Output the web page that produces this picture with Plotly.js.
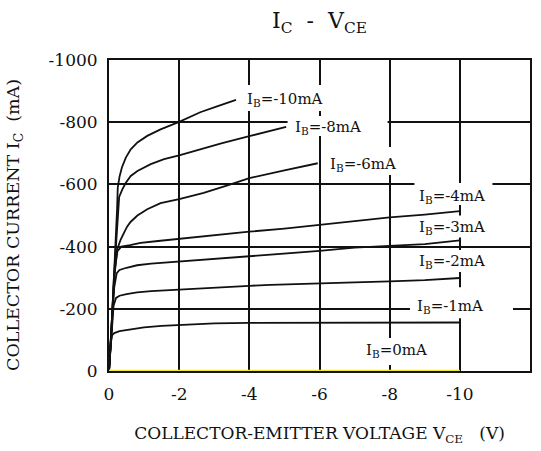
<!DOCTYPE html>
<html>
<head>
<meta charset="utf-8">
<script src="https://cdn.plot.ly/plotly-3.0.1.min.js"></script>
<style>html,body{margin:0;padding:0;background:#fff;}#chart{width:541px;height:451px;}</style>
</head>
<body>
<div id="chart"></div>
<script>
// ---- data (VCE in V, IC in mA) ----
var ib10_v = [0, -0.06, -0.14, -0.2, -0.23, -0.25, -0.3, -0.37, -0.48, -0.62, -0.81, -1.09, -1.47, -2.0, -2.6, -3.1, -3.62];
var ib10_i = [0, -110, -300, -420, -520, -590, -625, -655, -686, -713, -735, -756, -777, -801, -832, -852, -872];
var ib8_v = [0, -0.06, -0.14, -0.21, -0.25, -0.29, -0.38, -0.48, -0.62, -0.81, -1.19, -1.57, -2.0, -2.6, -3.2, -4.0, -4.5, -5.05];
var ib8_i = [0, -110, -300, -440, -520, -560, -584, -605, -627, -643, -665, -681, -693, -713, -732, -755, -770, -785];
var ib6_v = [0, -0.06, -0.15, -0.23, -0.33, -0.43, -0.52, -0.62, -0.81, -1.09, -1.47, -2.0, -2.7, -3.4, -4.0, -5.0, -5.95];
var ib6_i = [0, -110, -300, -390, -422, -445, -465, -480, -500, -520, -540, -553, -573, -598, -620, -645, -668];
var ib4_v = [0, -0.06, -0.16, -0.24, -0.35, -0.6, -0.9, -1.4, -2, -2.6, -3.3, -4, -5, -6, -7, -8, -9, -10];
var ib4_i = [0, -110, -320, -385, -400, -405, -412, -418, -425, -433, -440, -448, -458, -470, -482, -494, -503, -514];
var ib3_v = [0, -0.06, -0.15, -0.22, -0.3, -0.5, -0.8, -1.2, -2, -3, -4, -5, -6, -7, -8, -9, -10];
var ib3_i = [0, -110, -270, -315, -325, -332, -340, -345, -352, -360, -368, -377, -386, -397, -402, -408, -420];
var ib2_v = [0, -0.06, -0.13, -0.2, -0.3, -0.5, -0.8, -1.2, -2, -2.6, -3.3, -4, -4.6, -6, -7, -8, -9, -10];
var ib2_i = [0, -110, -210, -235, -242, -247, -253, -257, -262, -267, -270, -274, -277, -283, -285, -288, -292, -299];
var ib1_v = [0, -0.05, -0.09, -0.15, -0.3, -0.6, -1, -1.5, -2, -3, -4, -6, -8, -10];
var ib1_i = [0, -90, -115, -122, -128, -134, -140, -145, -148, -153, -155, -155, -156, -156];
var ib0_v = [0, -10];
var ib0_i = [0, 0];

var xTickVals = [0, -2, -4, -6, -8, -10, -12];
var xTickText = ['0', '-2', '-4', '-6', '-8', '-10', '-12'];
var yTickVals = [0, -200, -400, -600, -800, -1000];
var yTickText = ['0', '-200', '-400', '-600', '-800', '-1000'];

var curveLabels = ['I<sub>B</sub>=-10mA', 'I<sub>B</sub>=-8mA', 'I<sub>B</sub>=-6mA', 'I<sub>B</sub>=-4mA',
                   'I<sub>B</sub>=-3mA', 'I<sub>B</sub>=-2mA', 'I<sub>B</sub>=-1mA', 'I<sub>B</sub>=0mA'];

// ---- label placement (layout only) ----
var labelPos = [[-5.02, -881], [-6.23, -788], [-7.23, -672], [-9.79, -569],
                [-9.78, -468], [-9.78, -360], [-9.72, -215], [-8.2, -71]];
// white box offsets in px around each label: [left, right, top, bottom]
var labelBox = [[-42, 42, -12, 14], [-40, 60, -10, 10], [-40, 40, -15, 13], [-38, 40, -11, 11],
                [-38, 40, -10, 12], [-38, 40, -9, 13], [-40, 63, -17, 14], [-36, 36, -11, 16]];

var FONT = 'DejaVu Serif';
var INK = '#111111';

function curve(xs, ys, color, w) {
  return {x: xs, y: ys, type: 'scatter', mode: 'lines', cliponaxis: false,
          line: {color: color, width: w}, hoverinfo: 'skip', showlegend: false};
}

var traces = [
  curve(ib10_v, ib10_i, INK, 1.8),
  curve(ib8_v, ib8_i, INK, 1.8),
  curve(ib6_v, ib6_i, INK, 1.8),
  curve(ib4_v, ib4_i, INK, 1.8),
  curve(ib3_v, ib3_i, INK, 1.8),
  curve(ib2_v, ib2_i, INK, 1.8),
  curve(ib1_v, ib1_i, INK, 1.8),
  curve(ib0_v, ib0_i, '#f2e82a', 2.5)
];

var annotations = curveLabels.map(function (t, k) {
  return {x: labelPos[k][0], y: labelPos[k][1], xref: 'x', yref: 'y', text: t, showarrow: false,
          xanchor: 'center', yanchor: 'middle', yshift: -2,
          font: {family: FONT, size: 15, color: INK}};
});
annotations.push({xref: 'paper', yref: 'paper', x: -0.223, y: 0.47, textangle: -90,
                  xanchor: 'center', yanchor: 'middle', showarrow: false,
                  text: 'COLLECTOR CURRENT I<sub>C</sub>&nbsp;&nbsp;(mA)',
                  font: {family: FONT, size: 17.5, color: INK}});

var shapes = labelBox.map(function (b, k) {
  return {type: 'rect', layer: 'between', xref: 'x', yref: 'y',
          xsizemode: 'pixel', ysizemode: 'pixel',
          xanchor: labelPos[k][0], yanchor: labelPos[k][1],
          x0: b[0], x1: b[1], y0: -b[3], y1: -b[2],
          fillcolor: '#ffffff', line: {width: 0}};
});

var layout = {
  width: 541, height: 451,
  margin: {l: 109, r: 11, t: 60, b: 80, pad: 0},
  paper_bgcolor: '#ffffff', plot_bgcolor: '#ffffff',
  font: {family: FONT, color: INK},
  title: {text: 'I<sub>C</sub>&nbsp;&nbsp;-&nbsp;&nbsp;V<sub>CE</sub>', font: {family: FONT, size: 22, color: INK},
          xref: 'paper', x: 0.5, xanchor: 'center', yref: 'container', y: 0.955, yanchor: 'middle'},
  xaxis: {range: [0, -12], tickvals: xTickVals, ticktext: xTickText, ticks: '',
          showgrid: true, gridcolor: INK, gridwidth: 2, zeroline: false,
          showline: true, linecolor: INK, linewidth: 2, mirror: true, layer: 'below traces',
          tickfont: {family: FONT, size: 17, color: INK}, ticklabelstandoff: 7,
          title: {text: 'COLLECTOR-EMITTER VOLTAGE V<sub>CE</sub>&nbsp;&nbsp;&nbsp;(V)', standoff: 24,
                  font: {family: FONT, size: 17, color: INK}},
          fixedrange: true},
  yaxis: {range: [0, -1000], tickvals: yTickVals, ticktext: yTickText, ticks: '',
          showgrid: true, gridcolor: INK, gridwidth: 2, zeroline: false,
          showline: true, linecolor: INK, linewidth: 2, mirror: true, layer: 'below traces',
          tickfont: {family: FONT, size: 17, color: INK}, ticklabelstandoff: 6,
          fixedrange: true},
  annotations: annotations,
  shapes: shapes
};

Plotly.newPlot('chart', traces, layout, {staticPlot: true, displayModeBar: false});
</script>
</body>
</html>
